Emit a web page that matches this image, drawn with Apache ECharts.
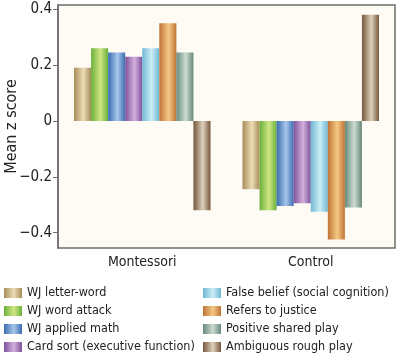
<!DOCTYPE html>
<html><head><meta charset="utf-8">
<script src="https://cdn.jsdelivr.net/npm/echarts@6/dist/echarts.min.js"></script>
<style>html,body{margin:0;padding:0;background:#fff}#c{width:400px;height:356px}</style>
</head><body><div id="c"></div>
<script>
const categories = ['Montessori', 'Control'];
const seriesNames = ['WJ letter-word','WJ word attack','WJ applied math','Card sort (executive function)','False belief (social cognition)','Refers to justice','Positive shared play','Ambiguous rough play'];
const montessori = [0.19, 0.26, 0.245, 0.23, 0.26, 0.35, 0.245, -0.32];
const control = [-0.245, -0.32, -0.305, -0.295, -0.325, -0.425, -0.31, 0.38];
const yTicks = [-0.4, -0.2, 0, 0.2, 0.4];
const darkColors = ['#a88d5a','#6bb03c','#3a6db0','#80529c','#6fb8d2','#c07434','#66897a','#77573b'];
const lightColors = ['#ecdcb6','#cfe784','#a8c6ea','#d2b0dc','#cdeef7','#f4c985','#cddbd2','#ddd0bd'];

const grad = (i) => new echarts.graphic.LinearGradient(0,0,1,0,[
  {offset:0,color:darkColors[i]},{offset:0.55,color:lightColors[i]},{offset:1,color:darkColors[i]}]);

const series = seriesNames.map((n,i)=>({
  name:n, type:'bar', data:[montessori[i], control[i]],
  barGap:'0%', barCategoryGap:'19%',
  itemStyle:{color:grad(i)}
}));

const FONT = "'DejaVu Sans Condensed', 'Liberation Sans Narrow', Lato";
const fmt = v => (v<0?'\u2212':'') + (v===0?'0':Math.abs(v).toFixed(1));
const chart = echarts.init(document.getElementById('c'), null, {renderer:'canvas'});
const legText = {fontFamily:FONT, fontSize:12.5, color:'#222', lineHeight:16, width:180, overflow:'none'};
chart.setOption({
  animation:false,
  backgroundColor:'#ffffff',
  grid:{left:58, right:5, top:5, bottom:108, containLabel:false, outerBoundsMode:'none', show:true, backgroundColor:'#fdfbf4', borderColor:'#6e6e6e', borderWidth:1.5},
  legend:[
    {data:seriesNames.slice(0,4), orient:'vertical', left:4, top:285, width:195, height:71, padding:0, itemWidth:18, itemHeight:10, itemGap:2, textStyle:legText, icon:'rect'},
    {data:seriesNames.slice(4), orient:'vertical', left:203, top:285, width:195, height:71, padding:0, itemWidth:18, itemHeight:10, itemGap:2, textStyle:legText, icon:'rect'}
  ],
  xAxis:{type:'category', data:categories,
    axisLine:{show:false, onZero:false}, axisTick:{show:false},
    axisLabel:{fontFamily:FONT, fontSize:14, color:'#222', margin:7}},
  yAxis:{type:'value', min:-0.455, max:0.415,
    name:'Mean z score', nameLocation:'middle', nameGap:38, nameRotate:90, nameMoveOverlap:false,
    nameTextStyle:{fontFamily:FONT, fontSize:16, color:'#222'},
    splitLine:{show:false},
    axisLine:{show:true, lineStyle:{color:'#6e6e6e', width:1.5}},
    axisTick:{show:true, length:5, lineStyle:{color:'#6e6e6e'}, customValues:yTicks},
    axisLabel:{fontFamily:FONT, fontSize:15, color:'#222', margin:6, customValues:yTicks, formatter:fmt}},
  series:series
});
</script></body></html>
